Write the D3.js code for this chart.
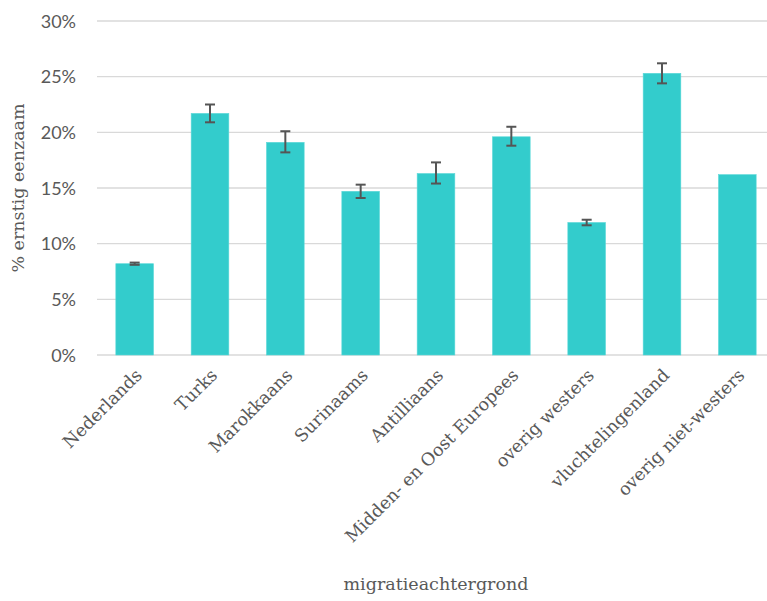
<!DOCTYPE html>
<html><head><meta charset="utf-8">
<script src="https://cdn.jsdelivr.net/npm/d3@7"></script>
<style>body{margin:0;background:#fff}svg{display:block}</style>
</head><body>
<svg id="c" width="767" height="601"></svg>
<script>
const categories = ["Nederlands","Turks","Marokkaans","Surinaams","Antilliaans","Midden- en Oost Europees","overig westers","vluchtelingenland","overig niet-westers"];
const values = [8.2, 21.7, 19.1, 14.7, 16.3, 19.6, 11.9, 25.3, 16.2];
const errLow = [8.1, 20.9, 18.2, 14.1, 15.4, 18.8, 11.65, 24.4, null];
const errHigh = [8.3, 22.5, 20.1, 15.3, 17.3, 20.5, 12.15, 26.2, null];
const yTicks = [0, 5, 10, 15, 20, 25, 30];

const svg = d3.select("#c");
const x = d3.scaleBand().domain(categories).range([97, 775]).paddingInner(0.5).paddingOuter(0.25);
const y = d3.scaleLinear().domain([0, 30]).range([355, 21]);
const serif = "'DejaVu Serif', serif";
const textCol = "#595959";

// gridlines
svg.append("g").selectAll("line").data(yTicks).join("line")
  .attr("x1", 97).attr("x2", 767)
  .attr("y1", d => y(d)).attr("y2", d => y(d))
  .attr("stroke", "#d9d9d9").attr("stroke-width", 1.3);

// y axis labels
const yAxis = d3.axisLeft(y).tickValues(yTicks).tickFormat(d => d + "%").tickSize(0).tickPadding(0);
const ya = svg.append("g").attr("transform", "translate(76,0)").call(yAxis);
ya.select(".domain").remove();
ya.selectAll("text").attr("font-family", "Lato, sans-serif").attr("font-size", 18).attr("fill", textCol).attr("dy", "0.35em");

// bars
svg.append("g").selectAll("rect").data(categories).join("rect")
  .attr("x", d => x(d)).attr("width", x.bandwidth())
  .attr("y", (d,i) => y(values[i])).attr("height", (d,i) => y(0) - y(values[i]))
  .attr("fill", "#33cccc").attr("stroke", "#5ad8d8").attr("stroke-width", 0.6);

// error bars
const eb = svg.append("g").attr("stroke", "#555").attr("stroke-width", 2).attr("fill", "none");
categories.forEach((c, i) => {
  if (errLow[i] == null) return;
  const cx = x(c) + x.bandwidth() / 2;
  eb.append("line").attr("x1", cx).attr("x2", cx).attr("y1", y(errLow[i])).attr("y2", y(errHigh[i]));
  eb.append("line").attr("x1", cx - 5).attr("x2", cx + 5).attr("y1", y(errLow[i])).attr("y2", y(errLow[i]));
  eb.append("line").attr("x1", cx - 5).attr("x2", cx + 5).attr("y1", y(errHigh[i])).attr("y2", y(errHigh[i]));
});

// x axis labels
const xAxis = d3.axisBottom(x).tickSize(0).tickPadding(0);
const xa = svg.append("g").attr("transform", "translate(0,372)").call(xAxis);
xa.select(".domain").remove();
xa.selectAll("text")
  .attr("font-family", serif).attr("font-size", 17.5).attr("fill", textCol)
  .attr("text-anchor", "end").attr("dy", "0.35em").attr("y", 0).attr("x", 0)
  .attr("transform", "translate(4,0) rotate(-45)");

// titles
svg.append("text").attr("x", 436).attr("y", 590).attr("text-anchor", "middle")
  .attr("font-family", serif).attr("font-size", 17.5).attr("fill", textCol).text("migratieachtergrond");
svg.append("text").attr("transform", "translate(24,188) rotate(-90)").attr("text-anchor", "middle")
  .attr("font-family", serif).attr("font-size", 17.5).attr("fill", textCol).text("% ernstig eenzaam");
</script>
</body></html>
